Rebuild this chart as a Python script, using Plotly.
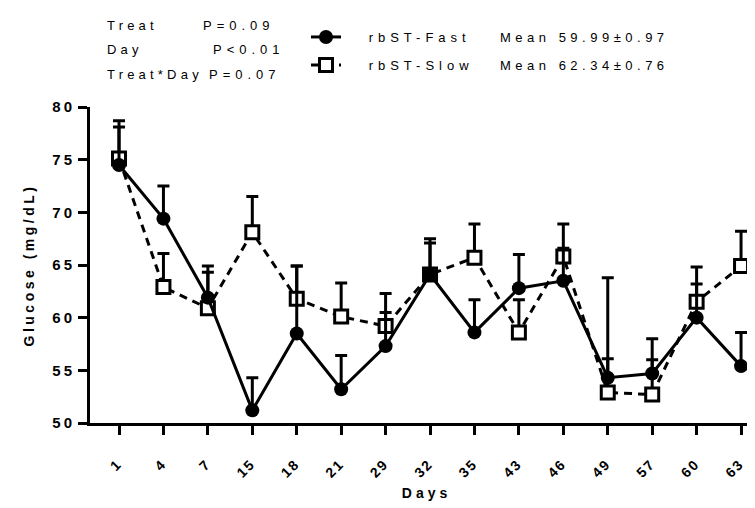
import plotly.graph_objects as go

days = ["1", "4", "7", "15", "18", "21", "29", "32", "35", "43", "46", "49", "57", "60", "63"]
fast_mean = [74.5, 69.4, 61.9, 51.2, 58.5, 53.2, 57.3, 64.1, 58.6, 62.8, 63.5, 54.3, 54.7, 60.0, 55.4]
fast_se = [3.6, 3.1, 3.0, 3.1, 6.4, 3.2, 3.2, 3.4, 3.1, 3.2, 3.1, 9.5, 3.3, 3.2, 3.2]
slow_mean = [75.1, 62.9, 60.9, 68.1, 61.8, 60.1, 59.2, 64.1, 65.7, 58.6, 65.8, 52.9, 52.7, 61.5, 64.9]
slow_se = [3.6, 3.2, 3.4, 3.4, 3.1, 3.2, 3.1, 3.0, 3.2, 3.1, 3.1, 3.2, 3.3, 3.3, 3.3]
y_ticks = [50, 55, 60, 65, 70, 75, 80]

stat_labels = ["Treat", "Day", "Treat*Day"]
stat_values = ["P=0.09", "P<0.01", "P=0.07"]
fast_name = "rbST-Fast"
slow_name = "rbST-Slow"
fast_summary = "Mean 59.99±0.97"
slow_summary = "Mean 62.34±0.76"

FONT = "Arial, Liberation Sans, sans-serif"
W, H = 755, 508
L, R, T, B = 82, 0, 99, 93
PW, PH = W - L - R, H - T - B


def ls(s, px=4):
    return f'<span style="letter-spacing:{px}px">{s}</span>'


def px_x(px):
    return (px - L) / PW


def px_y(py):
    return (H - B - py) / PH


GAP = '<span style="letter-spacing:19px">\u00a0</span>'

xs = list(range(len(days)))

fig = go.Figure()

fig.add_trace(go.Scatter(
    x=xs, y=slow_mean, name=GAP + ls(slow_name, 5), legend="legend2",
    mode="lines+markers",
    line=dict(color="black", width=3, dash="8px,6px"),
    marker=dict(symbol="square", size=13, color="white", line=dict(color="black", width=3)),
    error_y=dict(type="data", array=slow_se, arrayminus=[0] * len(slow_se), symmetric=False,
                 color="black", thickness=3, width=6),
))
fig.add_trace(go.Scatter(
    x=xs, y=fast_mean, name=GAP + ls(fast_name, 5), legend="legend",
    mode="lines+markers",
    line=dict(color="black", width=3),
    marker=dict(symbol="circle", size=14, color="black"),
    error_y=dict(type="data", array=fast_se, arrayminus=[0] * len(fast_se), symmetric=False,
                 color="black", thickness=3, width=6),
))

annotations = []
rows_y = [18, 42, 66]
val_x = [193, 203, 199]
for lab, val, yy, vx in zip(stat_labels, stat_values, rows_y, val_x):
    annotations.append(dict(x=px_x(97), y=px_y(yy), xref="paper", yref="paper",
                            text=ls(lab, 4.2), showarrow=False, xanchor="left", yanchor="middle",
                            font=dict(family=FONT, size=13, color="black")))
    annotations.append(dict(x=px_x(vx), y=px_y(yy), xref="paper", yref="paper",
                            text=ls(val, 5), showarrow=False, xanchor="left", yanchor="middle",
                            font=dict(family=FONT, size=13, color="black")))
for txt, yy in zip([fast_summary, slow_summary], [30, 58]):
    annotations.append(dict(x=px_x(490), y=px_y(yy), xref="paper", yref="paper",
                            text=ls(txt, 4.5), showarrow=False, xanchor="left", yanchor="middle",
                            font=dict(family=FONT, size=13, color="black")))

legend_common = dict(xanchor="left", yanchor="middle", bgcolor="rgba(0,0,0,0)",
                     font=dict(family=FONT, size=13, color="black"), borderwidth=0)

fig.update_layout(
    width=W, height=H,
    margin=dict(l=L, r=R, t=T, b=B, autoexpand=False),
    paper_bgcolor="white", plot_bgcolor="white",
    font=dict(family=FONT, color="black"),
    showlegend=True,
    legend=dict(x=px_x(298), y=px_y(29), **legend_common),
    legend2=dict(x=px_x(298), y=px_y(57), **legend_common),
    annotations=annotations,
    xaxis=dict(
        range=[-0.653, 14.494], tickvals=xs, ticktext=[ls(d, 2) for d in days],
        tickangle=-45, showline=True, linecolor="black", linewidth=3,
        ticks="outside", ticklen=9, tickwidth=3, tickcolor="black",
        ticklabelstandoff=15, ticklabelshift=-1,
        tickfont=dict(family=FONT, size=14, color="black", weight="bold"),
        showgrid=False, zeroline=False,
        title=dict(text=ls("Days", 4), font=dict(family=FONT, size=14, color="black", weight="bold"),
                   standoff=9),
    ),
    yaxis=dict(
        range=[50, 80], tickvals=y_ticks, ticktext=[ls(str(v), 3) for v in y_ticks],
        showline=True, linecolor="black", linewidth=3,
        ticks="outside", ticklen=9, tickwidth=3, tickcolor="black",
        tickfont=dict(family=FONT, size=15, color="black", weight="bold"),
        showgrid=False, zeroline=False,
        title=dict(text=ls("Glucose (mg/dL)", 3.5), font=dict(family=FONT, size=14, color="black", weight="bold"),
                   standoff=15),
    ),
)

fig.write_html("out.html")
